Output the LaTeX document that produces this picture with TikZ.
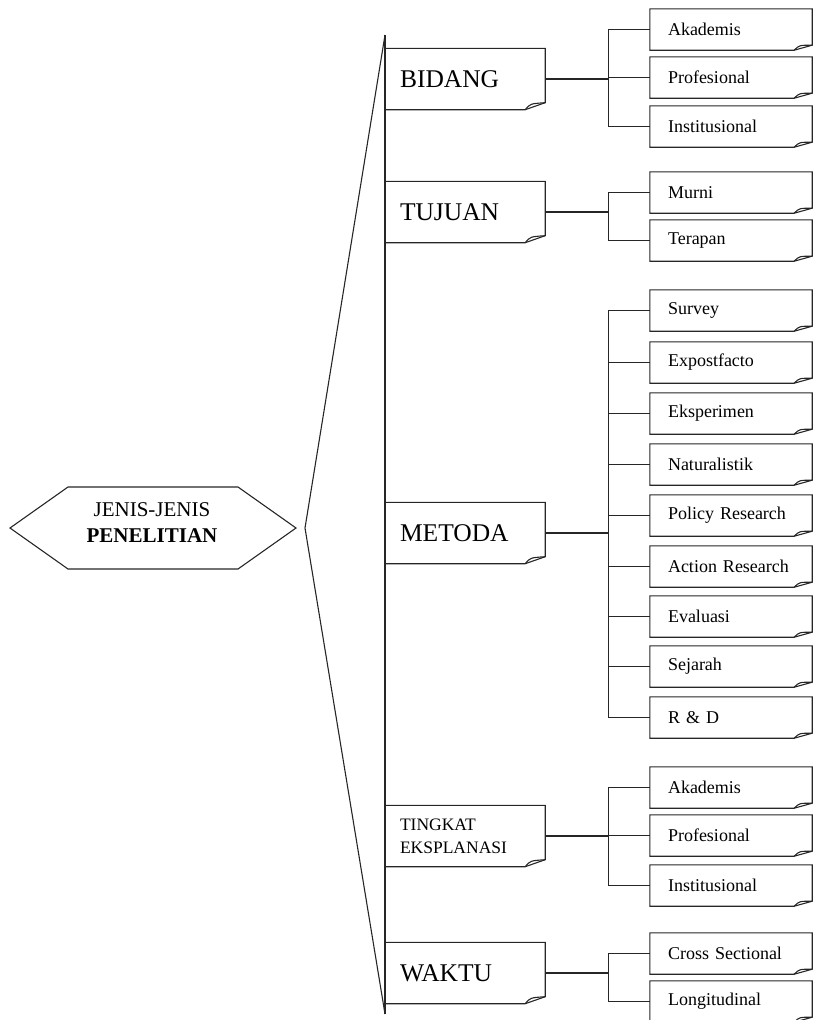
\documentclass[tikz,border=0pt]{standalone}
\usepackage{fontspec}
\setmainfont{Liberation Serif}
\tikzset{catbox/.style={rectangle, minimum width=160pt, minimum height=61pt, inner xsep=15pt,
                        text width=130pt, align=left, font=\fontsize{25.5}{28}\selectfont},
         subbox/.style={rectangle, minimum width=162pt, minimum height=41pt, inner xsep=18pt,
                        text width=126pt, align=left, font=\fontsize{18}{21}\selectfont},
         link/.style={black!85, line width=1.1pt}}

\begin{document}
\begin{tikzpicture}[x=1pt,y=-1pt]
   \useasboundingbox (0,0) rectangle (814,1020);
   % left hexagon with the brace
   \node[align=center, font=\fontsize{21}{26}\selectfont] (jenis) at (152,523) {JENIS-JENIS\\\textbf{PENELITIAN}};
   \draw[link] (10,528) -- (68,487) -- (238,487) -- (296,528) -- (238,569) -- (68,569) -- cycle;
   \coordinate (tip)    at (305,528);
   \coordinate (bartop) at (385,35);
   \coordinate (barbot) at (385,1014);
   \draw[link] (bartop) -- (barbot);
   \draw[link] (bartop) -- (tip) -- (barbot);

   % categories
   \node[catbox] (bidang)  at (465,79)  {BIDANG};
   \node[catbox] (tujuan)  at (465,212) {TUJUAN};
   \node[catbox] (metoda)  at (465,533) {METODA};
   \node[catbox, font=\fontsize{17.5}{23}\selectfont] (tingkat) at (465,836) {TINGKAT\\EKSPLANASI};
   \node[catbox] (waktu)   at (465,973) {WAKTU};

   % sub items
   \node[subbox] (bid1) at (731, 29.5) {Akademis};
   \node[subbox] (bid2) at (731, 77.5) {Profesional};
   \node[subbox] (bid3) at (731,126.5) {Institusional};
   \node[subbox] (tuj1) at (731,192.5) {Murni};
   \node[subbox] (tuj2) at (731,240.5) {Terapan};
   \foreach \i/\y/\t in {1/310.5/Survey, 2/362.5/Expostfacto, 3/413.5/Eksperimen,
                         4/464.5/Naturalistik, 5/515.5/Policy Research, 6/566.5/Action Research,
                         7/616.5/Evaluasi, 8/666.5/Sejarah, 9/717.5/R \& D}
     \node[subbox] (met\i) at (731,\y) {\t};
   \node[subbox] (tin1) at (731,787.5) {Akademis};
   \node[subbox] (tin2) at (731,835.5) {Profesional};
   \node[subbox] (tin3) at (731,885.5) {Institusional};
   \node[subbox] (wak1) at (731,953.5) {Cross Sectional};
   \node[subbox] (wak2) at (731,1001.5) {Longitudinal};

   % folded corner outlines
   \foreach \n in {bidang,tujuan,metoda,tingkat,waktu} {
     \draw[link] (\n.north west) -- (\n.north east) -- ([yshift=7pt]\n.south east)
                 -- ([xshift=-20pt]\n.south east) -- (\n.south west) -- cycle;
     \draw[link] ([xshift=-20pt]\n.south east) .. controls ([xshift=-15pt,yshift=6pt]\n.south east) .. ([yshift=7pt]\n.south east);
   }
   \foreach \n in {bid1,bid2,bid3,tuj1,tuj2,met1,met2,met3,met4,met5,met6,met7,met8,met9,tin1,tin2,tin3,wak1,wak2} {
     \draw[link] (\n.north west) -- (\n.north east) -- ([yshift=5pt]\n.south east)
                 -- ([xshift=-18pt]\n.south east) -- (\n.south west) -- cycle;
     \draw[link] ([xshift=-18pt]\n.south east) .. controls ([xshift=-13pt,yshift=5pt]\n.south east) .. ([yshift=5pt]\n.south east);
   }

   % brackets
   \foreach \c/\a/\b/\l in {bidang/bid/3/{1,2,3}, tujuan/tuj/2/{1,2}, metoda/met/9/{1,...,9},
                           tingkat/tin/3/{1,2,3}, waktu/wak/2/{1,2}} {
     \coordinate (j\c) at ([xshift=63pt]\c.east);
     \draw[link] (\c.east) -- (j\c);
     \draw[link] (\a1.west -| j\c) -- (\a\b.west -| j\c);
     \foreach \i in \l
       \draw[link] (\a\i.west) -- (\a\i.west -| j\c);
   }
\end{tikzpicture}
\end{document}
